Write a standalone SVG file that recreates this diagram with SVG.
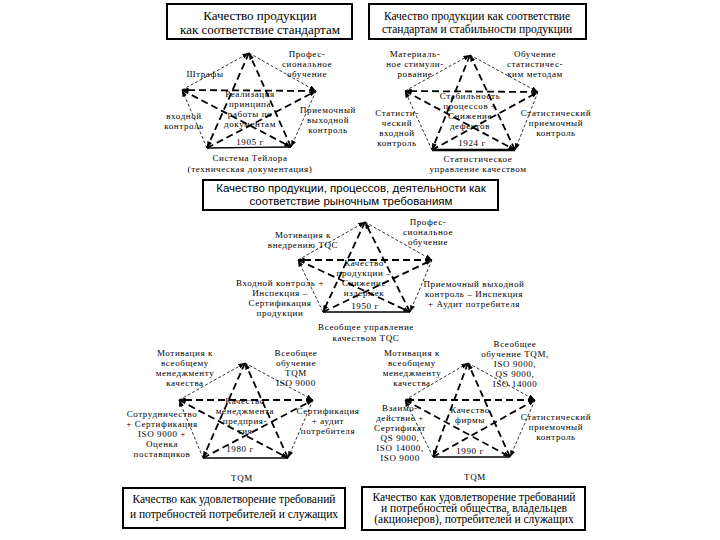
<svg xmlns="http://www.w3.org/2000/svg" width="720" height="540" viewBox="0 0 720 540">
<defs>
<marker id="ar" viewBox="0 0 8 6" refX="8" refY="3" markerWidth="7" markerHeight="5" markerUnits="userSpaceOnUse" orient="auto"><path d="M0,0 L8,3 L0,6 z" fill="#000"/></marker>
<style>
.bx{fill:#fff;stroke:#000;stroke-width:2}
.t{font-family:"Liberation Serif","Times New Roman",serif;font-size:9px;letter-spacing:0.6px;fill:#000;text-anchor:middle}
.tb{font-family:"Liberation Serif","Times New Roman",serif;font-size:11.5px;fill:#000;text-anchor:middle}
.tb1{font-family:"Liberation Serif","Times New Roman",serif;font-size:13px;fill:#000;text-anchor:middle}
.ts{font-family:"Liberation Sans",Arial,sans-serif;font-size:11.5px;fill:#000;text-anchor:middle}
.st{stroke:#000;stroke-width:1.8;stroke-dasharray:7,4;fill:none;marker-end:url(#ar)}
.pg{stroke:#000;stroke-width:0.8;stroke-dasharray:3,2;fill:none;marker-end:url(#ar)}
.bs{stroke:#000;stroke-width:1.3;fill:none}
</style>
</defs>
<rect width="720" height="540" fill="#fff"/>

<g id="connectors">
<g id="star1-lines">
<line class="st" x1="249" y1="53" x2="207" y2="148"/>
<line class="st" x1="207" y1="148" x2="316" y2="91"/>
<line class="st" x1="316" y1="91" x2="182" y2="90"/>
<line class="st" x1="182" y1="90" x2="291" y2="147"/>
<line class="st" x1="291" y1="147" x2="249" y2="53"/>
<line class="pg" x1="182" y1="90" x2="249" y2="53"/>
<line class="pg" x1="249" y1="53" x2="316" y2="91"/>
<line class="pg" x1="316" y1="91" x2="291" y2="147"/>
<line class="pg" x1="207" y1="148" x2="182" y2="90"/>
<line class="bs" x1="207" y1="148" x2="291" y2="147"/>
</g>
<g id="star2-lines">
<line class="st" x1="470" y1="55" x2="432" y2="150"/>
<line class="st" x1="432" y1="150" x2="538" y2="92"/>
<line class="st" x1="538" y1="92" x2="405" y2="91"/>
<line class="st" x1="405" y1="91" x2="515" y2="150"/>
<line class="st" x1="515" y1="150" x2="470" y2="55"/>
<line class="pg" x1="405" y1="91" x2="470" y2="55"/>
<line class="pg" x1="470" y1="55" x2="538" y2="92"/>
<line class="pg" x1="538" y1="92" x2="515" y2="150"/>
<line class="pg" x1="432" y1="150" x2="405" y2="91"/>
<line class="bs" x1="432" y1="150" x2="515" y2="150" style="stroke-width:2.5"/>
</g>
<g id="star3-lines">
<line class="st" x1="365" y1="222" x2="323" y2="312"/>
<line class="st" x1="323" y1="312" x2="432" y2="260"/>
<line class="st" x1="432" y1="260" x2="298" y2="260"/>
<line class="st" x1="298" y1="260" x2="410" y2="312"/>
<line class="st" x1="410" y1="312" x2="365" y2="222"/>
<line class="pg" x1="298" y1="260" x2="365" y2="222"/>
<line class="pg" x1="365" y1="222" x2="432" y2="260"/>
<line class="pg" x1="432" y1="260" x2="410" y2="312"/>
<line class="pg" x1="323" y1="312" x2="298" y2="260"/>
<line class="bs" x1="323" y1="312" x2="410" y2="312"/>
</g>
<g id="star4-lines">
<line class="st" x1="245" y1="363" x2="203" y2="458"/>
<line class="st" x1="203" y1="458" x2="313" y2="400"/>
<line class="st" x1="313" y1="400" x2="179" y2="400"/>
<line class="st" x1="179" y1="400" x2="288" y2="458"/>
<line class="st" x1="288" y1="458" x2="245" y2="363"/>
<line class="pg" x1="179" y1="400" x2="245" y2="363"/>
<line class="pg" x1="245" y1="363" x2="313" y2="400"/>
<line class="pg" x1="313" y1="400" x2="288" y2="458"/>
<line class="pg" x1="203" y1="458" x2="179" y2="400"/>
<line class="bs" x1="203" y1="458" x2="288" y2="458"/>
</g>
<g id="star5-lines">
<line class="st" x1="468" y1="363" x2="433" y2="457"/>
<line class="st" x1="433" y1="457" x2="535" y2="400"/>
<line class="st" x1="535" y1="400" x2="405" y2="400"/>
<line class="st" x1="405" y1="400" x2="510" y2="457"/>
<line class="st" x1="510" y1="457" x2="468" y2="363"/>
<line class="pg" x1="405" y1="400" x2="468" y2="363"/>
<line class="pg" x1="468" y1="363" x2="535" y2="400"/>
<line class="pg" x1="535" y1="400" x2="510" y2="457"/>
<line class="pg" x1="433" y1="457" x2="405" y2="400"/>
<line class="bs" x1="433" y1="457" x2="510" y2="457"/>
</g>
</g>

<g id="box1"><rect class="bx" x="167" y="4" width="185" height="35"/>
<text class="tb1" x="260" y="20">Качество продукции</text>
<text class="tb1" x="260" y="34">как соответствие стандартам</text></g>

<g id="box2"><rect class="bx" x="369" y="4" width="217" height="35"/>
<text class="tb" x="477" y="20">Качество продукции как соответствие</text>
<text class="tb" x="477" y="33">стандартам и стабильности продукции</text></g>

<g id="star1-labels">
<text class="t" x="205" y="77">Штрафы</text>
<text class="t" x="307" y="57">Профес-</text><text class="t" x="307" y="67">сиональное</text><text class="t" x="307" y="77">обучение</text>
<text class="t" x="250" y="97">Реализация</text><text class="t" x="250" y="107">принципа</text><text class="t" x="250" y="117">работы по</text><text class="t" x="250" y="127">документам</text>
<text class="t" x="184" y="119">входной</text><text class="t" x="184" y="129">контроль</text>
<text class="t" x="328" y="113">Приемочный</text><text class="t" x="328" y="123">выходной</text><text class="t" x="328" y="133">контроль</text>
<text class="t" x="250" y="145">1905 г</text>
<text class="t" x="250" y="161">Система Тейлора</text><text class="t" x="250" y="172">(техническая документация)</text>
</g>

<g id="star2-labels">
<text class="t" x="415" y="57">Материаль-</text><text class="t" x="415" y="67">ное стимули-</text><text class="t" x="415" y="77">рование</text>
<text class="t" x="535" y="57">Обучение</text><text class="t" x="535" y="67">статистичес-</text><text class="t" x="535" y="77">ким методам</text>
<text class="t" x="470" y="99">Стабильность</text><text class="t" x="470" y="109">процессов +</text><text class="t" x="470" y="119">Снижение</text><text class="t" x="470" y="129">дефектов</text>
<text class="t" x="397" y="116">Статисти-</text><text class="t" x="397" y="126">ческий</text><text class="t" x="397" y="136">входной</text><text class="t" x="397" y="146">контроль</text>
<text class="t" x="556" y="116">Статистический</text><text class="t" x="556" y="126">приемочный</text><text class="t" x="556" y="136">контроль</text>
<text class="t" x="472" y="146">1924 г</text>
<text class="t" x="478" y="162">Статистическое</text><text class="t" x="478" y="172">управление качеством</text>
</g>

<g id="box3"><rect class="bx" x="203" y="180" width="295" height="30"/>
<text class="ts" x="351" y="192">Качество продукции, процессов, деятельности как</text>
<text class="ts" x="351" y="205">соответствие рыночным требованиям</text></g>

<g id="star3-labels">
<text class="t" x="303" y="238">Мотивация к</text><text class="t" x="303" y="248">внедрению TQC</text>
<text class="t" x="428" y="225">Профес-</text><text class="t" x="428" y="235">сиональное</text><text class="t" x="428" y="245">обучение</text>
<text class="t" x="364" y="266">Качество</text><text class="t" x="364" y="276">продукции –</text><text class="t" x="364" y="286">Снижение</text><text class="t" x="364" y="296">издержек</text>
<text class="t" x="280" y="286">Входной контроль +</text><text class="t" x="280" y="296">Инспекция –</text><text class="t" x="280" y="306">Сертификация</text><text class="t" x="280" y="316">продукции</text>
<text class="t" x="474" y="287">Приемочный выходной</text><text class="t" x="474" y="297">контроль – Инспекция</text><text class="t" x="474" y="307">+ Аудит потребителя</text>
<text class="t" x="365" y="309">1950 г</text>
<text class="t" x="366" y="330">Всеобщее управление</text><text class="t" x="366" y="341">качеством TQC</text>
</g>

<g id="star4-labels">
<text class="t" x="185" y="356">Мотивация к</text><text class="t" x="185" y="366">всеобщему</text><text class="t" x="185" y="376">менеджменту</text><text class="t" x="185" y="386">качества</text>
<text class="t" x="296" y="356">Всеобщее</text><text class="t" x="296" y="366">обучение</text><text class="t" x="296" y="376">TQM</text><text class="t" x="296" y="386">ISO 9000</text>
<text class="t" x="245" y="404">Качество</text><text class="t" x="245" y="414">менеджмента</text><text class="t" x="245" y="424">предприя-</text><text class="t" x="245" y="434">тия</text>
<text class="t" x="162" y="417">Сотрудничество</text><text class="t" x="162" y="427">+ Сертификация</text><text class="t" x="162" y="437">ISO 9000 +</text><text class="t" x="162" y="447">Оценка</text><text class="t" x="162" y="457">поставщиков</text>
<text class="t" x="328" y="414">Сертификация</text><text class="t" x="328" y="424">+ аудит</text><text class="t" x="328" y="434">потребителя</text>
<text class="t" x="240" y="452">1980 г</text>
<text class="t" x="242" y="481">TQM</text>
</g>

<g id="star5-labels">
<text class="t" x="412" y="356">Мотивация к</text><text class="t" x="412" y="366">всеобщему</text><text class="t" x="412" y="376">менеджменту</text><text class="t" x="412" y="386">качества</text>
<text class="t" x="515" y="347">Всеобщее</text><text class="t" x="515" y="357">обучение TQM,</text><text class="t" x="515" y="367">ISO 9000,</text><text class="t" x="515" y="377">QS 9000,</text><text class="t" x="515" y="387">ISO 14000</text>
<text class="t" x="470" y="413">Качество</text><text class="t" x="470" y="423">фирмы</text>
<text class="t" x="400" y="411">Взаимо-</text><text class="t" x="400" y="421">действие +</text><text class="t" x="400" y="431">Сертификат</text><text class="t" x="400" y="441">QS 9000,</text><text class="t" x="400" y="451">ISO 14000,</text><text class="t" x="400" y="461">ISO 9000</text>
<text class="t" x="556" y="420">Статистический</text><text class="t" x="556" y="430">приемочный</text><text class="t" x="556" y="440">контроль</text>
<text class="t" x="470" y="454">1990 г</text>
<text class="t" x="475" y="480">TQM</text>
</g>

<g id="box4"><rect class="bx" x="123" y="488" width="222" height="40"/>
<text class="tb" x="234" y="503">Качество как удовлетворение требований</text>
<text class="tb" x="234" y="518">и потребностей потребителей и служащих</text></g>

<g id="box5"><rect class="bx" x="362" y="487" width="223" height="43"/>
<text class="tb" x="474" y="501">Качество как удовлетворение требований</text>
<text class="tb" x="474" y="512">и потребностей общества, владельцев</text>
<text class="tb" x="474" y="523">(акционеров), потребителей и служащих</text></g>
</svg>
